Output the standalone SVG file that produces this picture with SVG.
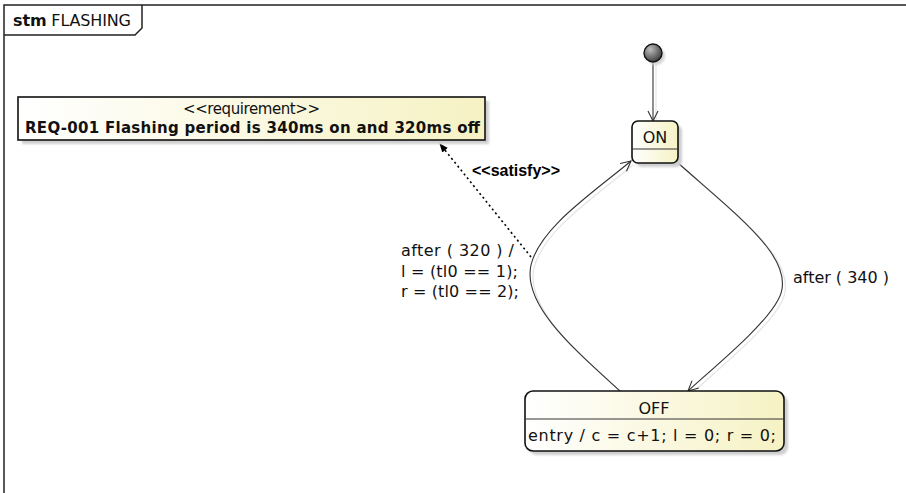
<svg xmlns="http://www.w3.org/2000/svg" width="906" height="493" viewBox="0 0 906 493">
  <defs>
    <linearGradient id="stateFill" x1="0" y1="0" x2="1" y2="0">
      <stop offset="0" stop-color="#ffffff"/>
      <stop offset="1" stop-color="#f6f2c4"/>
    </linearGradient>
    <radialGradient id="initFill" cx="0.35" cy="0.3" r="0.75">
      <stop offset="0" stop-color="#bdbdbd"/>
      <stop offset="1" stop-color="#3a3a3a"/>
    </radialGradient>
    <filter id="soft" x="-10%" y="-10%" width="120%" height="120%">
      <feGaussianBlur stdDeviation="1.2"/>
    </filter>
    <marker id="openArrow" viewBox="0 0 12 12" refX="11" refY="6" markerWidth="12" markerHeight="12" markerUnits="userSpaceOnUse" orient="auto">
      <path d="M1,1 L11,6 L1,11" fill="none" stroke="#333" stroke-width="1.1"/>
    </marker>
    <marker id="solidArrow" viewBox="0 0 10 10" refX="9" refY="5" markerWidth="9" markerHeight="9" markerUnits="userSpaceOnUse" orient="auto">
      <path d="M0,1 L10,5 L0,9 z" fill="#000"/>
    </marker>
  </defs>
  <style>
    .frame { fill: none; stroke: #222; stroke-width: 1.5; }
    .box { fill: url(#stateFill); stroke: #111; stroke-width: 1.6; }
    .shadow { fill: #cfcfcf; stroke: none; filter: url(#soft); }
    .div { stroke: #333; stroke-width: 1; }
    .lbl { font-family: "DejaVu Sans", "Liberation Sans", sans-serif; font-size: 16px; fill: #111; }
    .req { font-family: "DejaVu Sans", "Liberation Sans", sans-serif; font-size: 15px; fill: #111; }
    .trans { fill: none; stroke: #333; stroke-width: 1.1; }
    .transShadow { fill: none; stroke: #e4e4e4; stroke-width: 1.2; }
    .dep { fill: none; stroke: #000; stroke-width: 1.6; stroke-dasharray: 2 3; }
  </style>

  <rect width="906" height="493" fill="#ffffff"/>

  <!-- diagram frame with name tab -->
  <g id="frame">
    <path class="frame" d="M4,493 L4,5 L906,5"/>
    <path class="frame" d="M4,35 L135,35 L142,28 L142,5"/>
    <text x="13" y="26" font-family="DejaVu Sans, sans-serif" font-size="16" fill="#111" textLength="118"><tspan font-weight="bold">stm</tspan> FLASHING</text>
  </g>

  <!-- connectors -->
  <g id="connectors">
    <path class="transShadow" d="M656,64 L656,122"/>
    <path class="transShadow" d="M680,165 C743,221 803,265 781,303 C768,328 723,365 691,394"/>
    <path class="transShadow" d="M623,394 C578,353 525,308 534,268 C543,231 593,198 633,165"/>
    <line class="trans" x1="653" y1="63" x2="653" y2="121" marker-end="url(#openArrow)"/>
    <path class="trans" d="M677,162 C740,218 800,262 778,300 C765,325 720,362 688,391" marker-end="url(#openArrow)"/>
    <path class="trans" d="M620,391 C575,350 522,305 531,265 C540,228 590,195 631,161" marker-end="url(#openArrow)"/>
    <line class="dep" x1="531" y1="257" x2="440" y2="144" marker-end="url(#solidArrow)"/>
    <text x="472" y="176" font-family="Liberation Sans, Arial, sans-serif" font-size="16" font-weight="bold" fill="#000" textLength="88">&lt;&lt;satisfy&gt;&gt;</text>
    <text class="lbl" x="793" y="283" textLength="96">after ( 340 )</text>
    <text class="lbl" x="401" y="256" textLength="113">after ( 320 ) /</text>
    <text class="lbl" x="401" y="277" textLength="117">l = (tl0 == 1);</text>
    <text class="lbl" x="401" y="297" textLength="118">r = (tl0 == 2);</text>
  </g>

  <!-- requirement -->
  <g id="req001">
    <rect class="shadow" x="22" y="101" width="467" height="43"/>
    <rect class="box" x="18" y="97" width="467" height="43"/>
    <text class="req" x="183" y="114" textLength="137">&lt;&lt;requirement&gt;&gt;</text>
    <text class="req" x="25" y="133" font-weight="bold" textLength="455">REQ-001 Flashing period is 340ms on and 320ms off</text>
  </g>

  <!-- initial pseudostate -->
  <g id="initial">
    <circle cx="656" cy="56" r="9" fill="#d4d4d4" filter="url(#soft)"/>
    <circle cx="653" cy="53" r="9" fill="url(#initFill)" stroke="#111" stroke-width="1.4"/>
  </g>

  <!-- state ON -->
  <g id="stateON">
    <rect class="shadow" x="636" y="125" width="46" height="42" rx="6"/>
    <rect class="box" x="632" y="121" width="46" height="42" rx="6"/>
    <line class="div" x1="632" y1="149" x2="678" y2="149"/>
    <text class="lbl" x="655" y="143" text-anchor="middle">ON</text>
  </g>

  <!-- state OFF -->
  <g id="stateOFF">
    <rect class="shadow" x="529" y="395" width="259" height="60" rx="8"/>
    <rect class="box" x="525" y="391" width="259" height="60" rx="8"/>
    <line class="div" x1="525" y1="419" x2="784" y2="419"/>
    <text class="lbl" x="654" y="414" text-anchor="middle">OFF</text>
    <text class="lbl" x="528" y="441" font-size="17" textLength="248">entry / c = c+1; l = 0; r = 0;</text>
  </g>
</svg>
